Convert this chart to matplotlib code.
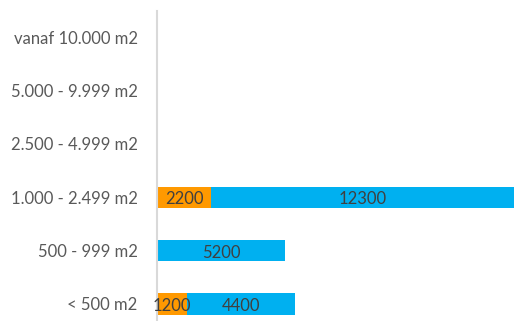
import numpy as np
import matplotlib.pyplot as plt

categories = ['< 500 m2', '500 - 999 m2', '1.000 - 2.499 m2',
              '2.500 - 4.999 m2', '5.000 - 9.999 m2', 'vanaf 10.000 m2']
orange_vals = [1200, 0, 2200, 0, 0, 0]
blue_vals = [4400, 5200, 12300, 0, 0, 0]

plt.rcParams['font.family'] = ['Lato', 'DejaVu Sans']

fig = plt.figure(figsize=(5.14, 3.21), dpi=100)
ax = fig.add_axes([157/514, -0.03, 357/514, 0.997])

y = np.arange(len(categories))
b1 = ax.barh(y, orange_vals, height=0.4, color='#FF9900')
b2 = ax.barh(y, blue_vals, left=orange_vals, height=0.4, color='#00B0F0')

for bars in (b1, b2):
    labels = [str(v) if v else '' for v in bars.datavalues]
    anns = ax.bar_label(bars, labels=labels, label_type='center', fontsize=12,
                        color='#404040', padding=0)
    # excel puts the numbers a touch lower than the exact middle
    for a in anns:
        a.xyann = (0, -1.5)

ax.set_xlim(0, 14500)
ax.set_ylim(-0.5, 5.5)
ax.set_yticks(y)
ax.set_yticklabels(categories, fontsize=12, color='#595959')
ax.tick_params(axis='y', length=0, pad=14)
ax.set_xticks([])
for s in ['top', 'right', 'bottom']:
    ax.spines[s].set_visible(False)
ax.spines['left'].set_color('#D9D9D9')
ax.spines['left'].set_linewidth(1.5)

plt.savefig('out.png', dpi=100)
